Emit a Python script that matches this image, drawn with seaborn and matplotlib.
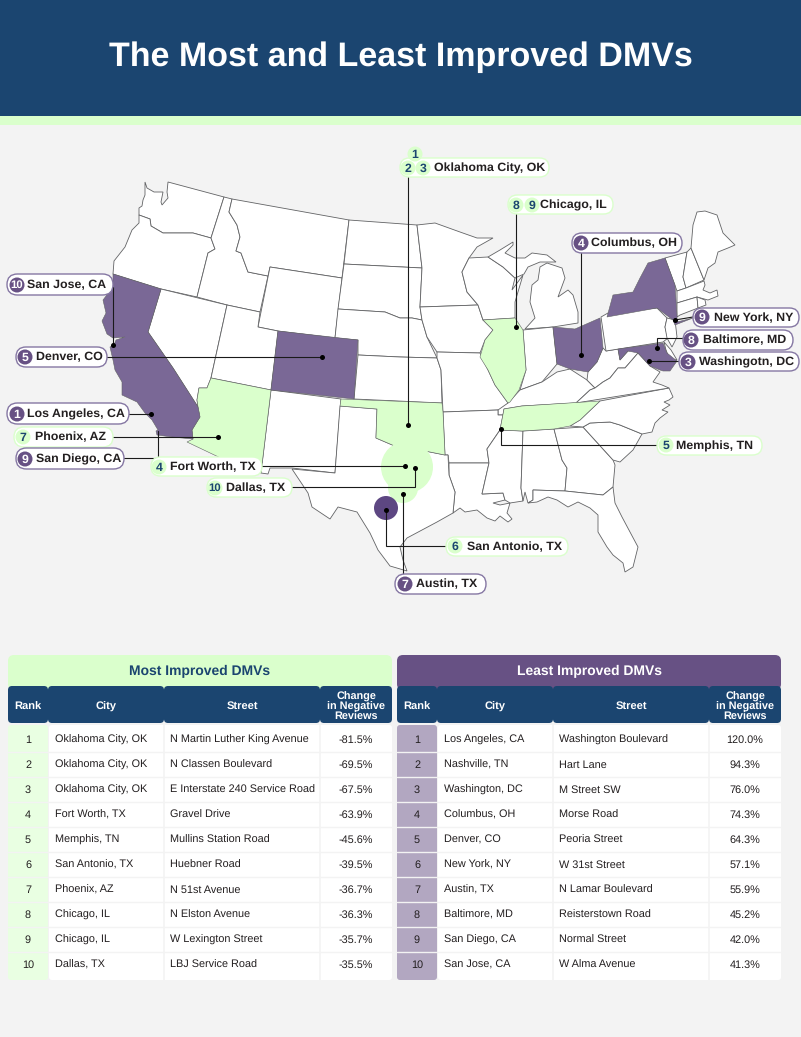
import matplotlib
matplotlib.use("Agg")
import matplotlib.pyplot as plt
from matplotlib.patches import Polygon, Circle, FancyBboxPatch, Rectangle
import pandas as pd
import seaborn as sns

# table data
ranks = list(range(1, 11))
most_cities = ["Oklahoma City, OK", "Oklahoma City, OK", "Oklahoma City, OK", "Fort Worth, TX", "Memphis, TN",
               "San Antonio, TX", "Phoenix, AZ", "Chicago, IL", "Chicago, IL", "Dallas, TX"]
most_streets = ["N Martin Luther King Avenue", "N Classen Boulevard", "E Interstate 240 Service Road", "Gravel Drive",
                "Mullins Station Road", "Huebner Road", "N 51st Avenue", "N Elston Avenue", "W Lexington Street",
                "LBJ Service Road"]
most_change = [-81.5, -69.5, -67.5, -63.9, -45.6, -39.5, -36.7, -36.3, -35.7, -35.5]
least_cities = ["Los Angeles, CA", "Nashville, TN", "Washington, DC", "Columbus, OH", "Denver, CO", "New York, NY",
                "Austin, TX", "Baltimore, MD", "San Diego, CA", "San Jose, CA"]
least_streets = ["Washington Boulevard", "Hart Lane", "M Street SW", "Morse Road", "Peoria Street", "W 31st Street",
                 "N Lamar Boulevard", "Reisterstown Road", "Normal Street", "W Alma Avenue"]
least_change = [120.0, 94.3, 76.0, 74.3, 64.3, 57.1, 55.9, 45.2, 42.0, 41.3]

NAVY = "#1B4570"
GREEN = "#DAFFCC"
PALE = "#E9FFE2"
PURPLE = "#7A6896"
DARK = "#675184"
LILAC = "#B2A7C1"
BG = "#F3F3F3"
INK = "#231F20"
EDGE = "#626365"
FONT = "Liberation Sans"

# state outlines, in image pixels
states = {
    "WA": [(145,182),(147,188),(154,192),(163,192),(161,202),(162,205),(168,198),(167,192),(168,182),(224,197),(211,238),(193,233),(163,233),(151,226),(150,219),(139,215),(139,208),(142,206),(143,200),(145,195)],
    "OR": [(139,215),(150,219),(151,226),(163,233),(193,233),(211,238),(215,249),(208,253),(197,297),(161,289),(113,274),(114,261),(125,247),(132,230),(139,223)],
    "ID": [(224,197),(232,199),(229,212),(237,225),(240,237),(236,251),(241,253),(248,272),(268,276),(260,312),(227,305),(197,297),(208,253),(215,249),(211,238)],
    "MT": [(232,199),(349,220),(342,278),(270,267),(268,276),(248,272),(241,253),(236,251),(240,237),(237,225),(229,212)],
    "WY": [(270,267),(342,278),(335,338),(278,331),(258,327)],
    "NV": [(161,289),(227,305),(211,378),(207,388),(199,388),(197,400),(198,407),(173,368),(148,332)],
    "UT": [(227,305),(260,312),(258,327),(278,331),(271,390),(211,378)],
    "NM": [(271,390),(341,399),(335,473),(292,468),(270,468),(268,474),(261,473)],
    "ND": [(349,220),(417,225),(422,268),(344,264)],
    "SD": [(344,264),(422,268),(420,307),(422,320),(412,318),(400,318),(385,312),(338,309)],
    "NE": [(338,309),(385,312),(400,318),(412,318),(422,320),(427,337),(437,358),(400,357),(358,355),(358,340),(335,338)],
    "KS": [(358,355),(400,357),(437,358),(441,370),(442,403),(354,399)],
    "MN": [(417,225),(435,223),(460,232),(477,238),(493,238),(477,247),(469,258),(462,272),(467,292),(478,305),(420,307),(422,268)],
    "IA": [(420,307),(478,305),(483,320),(493,330),(485,340),(480,353),(437,352),(427,337),(422,320)],
    "MO": [(437,352),(480,353),(488,370),(495,385),(508,403),(504,409),(503,415),(498,415),(498,410),(443,412),(441,370),(437,358)],
    "WI": [(469,258),(488,257),(503,267),(515,278),(512,290),(523,275),(515,302),(515,318),(483,320),(478,305),(467,292),(462,272)],
    "MI1": [(488,257),(500,250),(513,242),(513,245),(505,253),(515,258),(525,258),(532,253),(547,255),(556,262),(540,262),(528,267),(524,274),(515,278),(503,267)],
    "MI2": [(525,329),(553,327),(578,323),(578,312),(573,295),(568,290),(558,297),(565,278),(562,268),(547,263),(540,267),(538,280),(532,285),(530,302),(535,318)],
    "IN": [(523,330),(553,327),(557,364),(542,382),(520,390),(526,370)],
    "KY": [(508,403),(520,390),(542,382),(557,372),(570,369),(587,380),(595,388),(590,390),(576,403),(522,406),(504,409),(503,415),(498,415),(498,410)],
    "AR": [(443,412),(498,410),(498,415),(503,415),(500,430),(487,449),(489,463),(449,463),(448,455),(445,455)],
    "LA": [(449,463),(489,463),(482,494),(503,493),(505,500),(493,503),(500,505),(510,503),(507,513),(512,519),(508,522),(500,516),(495,521),(487,518),(477,510),(465,512),(460,508),(453,513),(455,492),(449,475)],
    "MS": [(500,430),(523,431),(521,488),(523,501),(510,503),(505,500),(503,493),(482,494),(489,463),(487,449)],
    "AL": [(523,431),(554,429),(562,460),(567,468),(565,491),(533,490),(533,500),(528,503),(525,492),(523,501),(521,488)],
    "GA": [(554,429),(583,427),(613,460),(615,465),(613,487),(603,495),(565,491),(567,468),(562,460)],
    "SC": [(583,427),(590,423),(610,422),(620,425),(642,434),(633,450),(620,462),(613,460)],
    "NC": [(570,426),(580,420),(600,401),(669,388),(673,397),(669,400),(664,402),(670,405),(662,410),(668,412),(660,418),(655,423),(652,432),(642,434),(620,425),(610,422),(590,423),(583,427)],
    "FL": [(533,490),(565,491),(603,495),(613,487),(615,503),(622,517),(638,547),(633,567),(625,572),(623,563),(613,555),(607,547),(598,532),(598,515),(590,508),(578,502),(568,507),(557,500),(548,497),(537,502),(528,503),(533,500)],
    "WV": [(606,351),(618,349),(620,360),(628,351),(635,350),(638,353),(632,360),(625,368),(618,368),(610,378),(603,382),(595,388),(587,380),(588,372),(597,362),(603,348)],
    "VA": [(576,403),(590,390),(595,388),(603,382),(610,378),(618,368),(625,368),(632,360),(638,353),(650,366),(660,372),(653,382),(662,385),(669,388)],
    "PA": [(601,317),(608,313),(657,308),(667,318),(665,327),(668,338),(663,342),(606,351)],
    "NJ": [(667,318),(675,320),(677,337),(672,347),(667,338),(665,327)],
    "DE": [(664,342),(671,350),(677,360),(670,360),(666,350)],
    "VT": [(665,258),(687,252),(683,277),(686,288),(677,291)],
    "NH": [(687,252),(691,248),(704,280),(686,288),(683,277)],
    "ME": [(691,248),(693,225),(697,212),(705,211),(717,215),(723,233),(735,245),(728,248),(718,252),(715,263),(708,268),(704,280)],
    "MA": [(677,291),(686,288),(704,281),(705,285),(703,290),(710,293),(717,290),(718,296),(708,300),(697,297),(677,303)],
    "CT": [(677,303),(697,297),(698,308),(680,315),(677,317)],
    "RI": [(697,297),(705,300),(706,305),(698,308)],
    "TX": [(340,406),(377,409),(376,438),(397,447),(420,450),(445,455),(448,455),(449,475),(455,492),(453,513),(437,522),(407,538),(400,547),(403,560),(407,571),(390,566),(378,550),(370,533),(357,512),(338,507),(330,519),(312,507),(308,493),(292,469),(335,473)],
}
green_states = {
    "OK": [(341,399),(442,403),(443,412),(445,455),(420,450),(400,448),(397,447),(376,438),(377,409),(340,406)],
    "AZ": [(211,378),(271,390),(261,473),(248,471),(187,442),(193,439),(192,430),(200,417),(198,407),(197,400),(199,388),(207,388)],
    "IL": [(483,320),(515,318),(523,330),(526,370),(519,390),(510,402),(508,403),(495,385),(488,370),(480,357),(485,340),(493,330)],
    "TN": [(522,406),(600,401),(580,420),(570,426),(554,429),(522,431),(500,430),(504,409)],
}
purple_states = {
    "CA": [(113,274),(161,289),(148,332),(173,368),(198,407),(200,417),(192,430),(193,439),(172,437),(157,435),(156,431),(158,430),(152,420),(145,413),(137,402),(122,395),(122,382),(115,370),(113,360),(110,347),(114,345),(116,340),(125,337),(113,338),(107,334),(102,321),(106,313),(103,300),(113,287)],
    "CO": [(278,331),(358,340),(354,399),(271,390)],
    "OH": [(553,327),(575,329),(600,318),(603,348),(597,362),(588,372),(570,369),(557,364)],
    "NY": [(607,317),(613,295),(633,292),(640,278),(648,263),(665,258),(675,285),(677,315),(677,322),(693,318),(675,325),(673,320),(657,308)],
    "MD": [(618,349),(663,343),(667,353),(677,361),(670,371),(663,371),(660,370),(650,366),(638,353),(628,351),(620,360)],
}

# callouts: city, pill box (x0, y0, x1, y1), badges (rank, x, y), text start, leader path, group
callouts = [
    ("Oklahoma City, OK", (400,158,549,177), [(1,415,154),(2,408,168),(3,423,168)], 434, [(408,177),(408,425)], "most"),
    ("Chicago, IL", (508,195,613,214), [(8,516,205),(9,532,205)], 540, [(516,214),(516,327)], "most"),
    ("Columbus, OH", (572,233,682,253), [(4,581,243)], 591, [(581,253),(581,355)], "least"),
    ("New York, NY", (693,308,799,327), [(9,702,317)], 714, [(693,317),(675,320)], "least"),
    ("Baltimore, MD", (683,330,793,350), [(8,691,340)], 703, [(683,338),(657,338),(657,348)], "least"),
    ("Washingotn, DC", (679,352,799,371), [(3,688,362)], 699, [(679,361),(649,361)], "least"),
    ("Memphis, TN", (657,436,762,455), [(5,666,445)], 676, [(657,445),(501,445),(501,429)], "most"),
    ("San Antonio, TX", (446,537,568,556), [(6,455,546)], 467, [(446,546),(386,546),(386,510)], "most"),
    ("Austin, TX", (395,574,486,594), [(7,405,584)], 416, [(403,574),(403,494)], "least"),
    ("Fort Worth, TX", (151,457,262,476), [(4,159,467)], 170, [(262,466),(405,466)], "most"),
    ("Dallas, TX", (207,478,292,497), [(10,215,488)], 226, [(292,487),(415,487),(415,468)], "most"),
    ("San Jose, CA", (7,274,113,295), [(10,17,285)], 27, [(113,287),(113,345)], "least"),
    ("Denver, CO", (16,347,107,367), [(5,25,357)], 36, [(107,357),(322,357)], "least"),
    ("Los Angeles, CA", (7,403,129,424), [(1,17,414)], 27, [(129,414),(151,414)], "least"),
    ("Phoenix, AZ", (14,427,113,447), [(7,23,437)], 35, [(113,437),(218,437)], "most"),
    ("San Diego, CA", (16,448,124,469), [(9,25,459)], 36, [(124,458),(158,458),(158,431)], "least"),
]


def pill(ax, x0, y0, x1, y1, face, edge, lw=1.0, z=6):
    r = (y1 - y0) / 2
    ax.add_patch(FancyBboxPatch((x0 + r, y0 + r), x1 - x0 - 2 * r, 0, boxstyle=f"round,pad={r},rounding_size={r}",
                                fc=face, ec=edge, lw=lw, zorder=z))


def round_box(ax, x0, y0, x1, y1, face, r=5, z=3):
    ax.add_patch(FancyBboxPatch((x0 + r, y0 + r), x1 - x0 - 2 * r, y1 - y0 - 2 * r,
                                boxstyle=f"round,pad={r},rounding_size={r}", fc=face, ec="none", zorder=z))


def draw_table(ax, x, title, title_face, title_color, rank_face, cities, streets, change):
    cols = [x, x + 40, x + 156, x + 312, x + 384]
    round_box(ax, cols[0], 655, cols[4], 690, title_face, r=6)
    ax.text((cols[0] + cols[4]) / 2, 671, title, color=title_color, fontsize=10, weight="bold", ha="center", va="center", zorder=8)
    heads = ["Rank", "City", "Street", "Change\nin Negative\nReviews"]
    head_y = [707, 707, 706, 707]
    for i, head in enumerate(heads):
        round_box(ax, cols[i], 686, cols[i + 1], 723, NAVY, r=4, z=4)
        ax.text((cols[i] + cols[i + 1]) / 2, head_y[i], head, color="white", fontsize=8 if i < 3 else 7.8,
                weight="bold", ha="center", va="center", linespacing=1.0, zorder=8)
    round_box(ax, cols[0], 725, cols[1], 980, rank_face, r=3, z=4)
    round_box(ax, cols[1] + 1, 725, cols[4], 980, "white", r=3, z=4)
    for c in cols[2:4]:
        ax.plot([c, c], [725, 980], color=BG, lw=1.2, zorder=5)
    for i, rank in enumerate(ranks):
        y = 739 + i * 25
        if i:
            ax.plot([cols[0], cols[4]], [y - 12.5, y - 12.5], color=BG, lw=1, zorder=5)
        ax.text((cols[0] + cols[1]) / 2, y + 1, str(rank), color=INK, fontsize=7.8, ha="center", va="center", zorder=8)
        ax.text(cols[1] + 7, y + 1, cities[i], color=INK, fontsize=7.8, ha="left", va="center", zorder=8)
        ax.text(cols[2] + 6, y + 1, streets[i], color=INK, fontsize=7.8, ha="left", va="center", zorder=8)
        ax.text((cols[3] + cols[4]) / 2, y + 1, f"{change[i]:.1f}%", color=INK, fontsize=7.8, ha="center", va="center", zorder=8)


sns.set_theme(style="white")
plt.rcParams["font.family"] = [FONT, "DejaVu Sans"]
plt.rcParams["text.hinting"] = "no_hinting"

fig = plt.figure(figsize=(8.01, 10.37), dpi=100, facecolor=BG)
ax = fig.add_axes([0, 0, 1, 1])

# leaders and pins
pin_x, pin_y = [], []
for city, box, badges, tx, path, group in callouts:
    xs, ys = zip(*path)
    ax.plot(xs, ys, color="#1A1A1A", lw=0.8, zorder=5, solid_joinstyle="miter")
    if city != "San Diego, CA":
        pin_x.append(xs[-1])
        pin_y.append(ys[-1])
pins = pd.DataFrame({"x": pin_x, "y": pin_y})
sns.scatterplot(data=pins, x="x", y="y", ax=ax, s=13, color="black", linewidth=0, zorder=5.5, legend=False)
ax.set_xlim(0, 801)
ax.set_ylim(1037, 0)
ax.axis("off")

# banner
ax.add_patch(Rectangle((0, 0), 801, 116, fc=NAVY, ec="none", zorder=1))
ax.add_patch(Rectangle((0, 116), 801, 9, fc=GREEN, ec="none", zorder=1))
ax.text(401, 57, "The Most and Least Improved DMVs", color="white", fontsize=24.5, weight="bold", ha="center", va="center", zorder=3)

# map
for pts in states.values():
    ax.add_patch(Polygon(pts, closed=True, fc="white", ec=EDGE, lw=0.6, zorder=2))
for pts in green_states.values():
    ax.add_patch(Polygon(pts, closed=True, fc=GREEN, ec=EDGE, lw=0.4, zorder=2.1))
for pts in purple_states.values():
    ax.add_patch(Polygon(pts, closed=True, fc=PURPLE, ec=EDGE, lw=0.4, zorder=2.1))

# metro blobs
ax.add_patch(Circle((407, 467), 26, fc=GREEN, ec="none", zorder=2.5))
ax.add_patch(Circle((403, 488), 15, fc=GREEN, ec="none", zorder=2.5))
ax.add_patch(Circle((386, 508), 12, fc="#5D4782", ec="none", zorder=2.6))

# callout pills
for city, (x0, y0, x1, y1), badges, tx, path, group in callouts:
    edge = GREEN if group == "most" else "#8577A3"
    pill(ax, x0, y0, x1, y1, "white", edge)
    for rank, bx, by in badges:
        face = GREEN if group == "most" else DARK
        ink = NAVY if group == "most" else "white"
        ax.add_patch(Circle((bx, by), 7.5, fc=face, ec="none", zorder=7))
        ax.text(bx, by + 0.5, str(rank), color=ink, fontsize=8.8 if rank < 10 else 8.2, weight="bold", ha="center", va="center", zorder=8)
    ax.text(tx, (y0 + y1) / 2 + 0.5, city, color=INK, fontsize=8.9, weight="bold", ha="left", va="center", zorder=8)

# tables
draw_table(ax, 8, "Most Improved DMVs", GREEN, NAVY, PALE, most_cities, most_streets, most_change)
draw_table(ax, 397, "Least Improved DMVs", DARK, "white", LILAC, least_cities, least_streets, least_change)

fig.savefig("out.png", dpi=100, facecolor=BG)
